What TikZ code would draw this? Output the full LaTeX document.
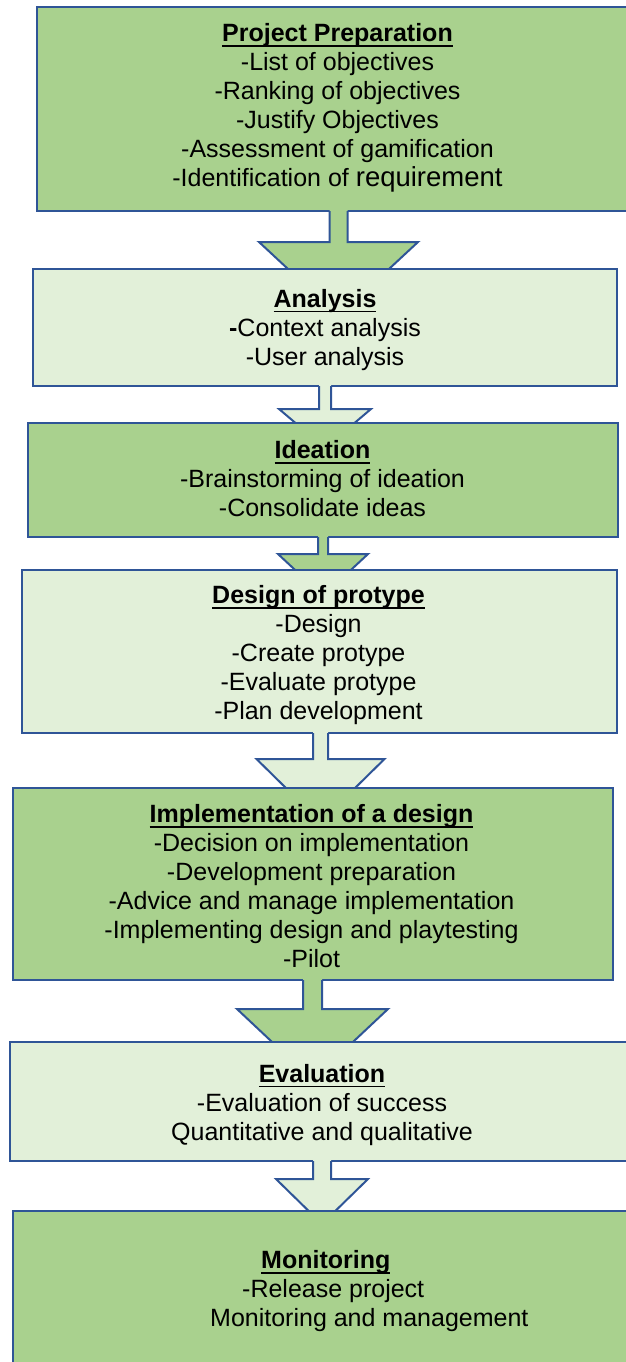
\documentclass[tikz,border=0pt]{standalone}
\usepackage{fontspec}
\setmainfont{Liberation Sans}
\usetikzlibrary{calc}

\definecolor{stagedark}{HTML}{A9D18E}
\definecolor{stagelight}{HTML}{E2F0D9}
\definecolor{stageedge}{HTML}{2F5597}

% bold heading with a thick underline that runs through descenders
\newcommand{\stagehead}[1]{\setbox0\hbox{\bfseries #1}\rlap{\rule[-5pt]{\wd0}{1.6pt}}\box0}

% block arrow hanging from the bottom of a stage box:
% #1 source node, #2 axis x, #3 half shaft width, #4 shaft length,
% #5 half head width, #6 head depth, #7 fill colour
\newcommand{\blockarrow}[7]{%
  \coordinate (axis) at (#2,0);
  \coordinate (root) at (axis |- #1.south);
  \fill[#7] (root) ++(-#3,-1) -- ++(0,#4+1) -- ++(-#5+#3,0) -- ++(#5,#6)
    -- ++(#5,-#6) -- ++(-#5+#3,0) -- ++(0,-#4-1) -- cycle;
  \draw[flowedge] (root) ++(-#3,0) -- ++(0,#4) -- ++(-#5+#3,0) -- ++(#5,#6)
    -- ++(#5,-#6) -- ++(-#5+#3,0) -- ++(0,-#4);
}

\tikzset{
  stagebox/.style={draw=stageedge, line width=2pt, rectangle, inner sep=0pt, outer sep=0pt},
  stagetext/.style={align=center, inner sep=0pt, font=\fontsize{25}{29}\selectfont},
  flowedge/.style={draw=stageedge, line width=2pt, line join=miter},
}

\begin{document}
\begin{tikzpicture}[x=1pt, y=-1pt]
  \useasboundingbox (0,0) rectangle (626,1362);
  \clip (0,0) rectangle (626,1362);

  % 1 Project preparation
  \node[stagebox, fill=stagedark, minimum width=603pt, minimum height=204pt] (b1) at (338.5,109) {};
  \node[stagetext] (t1) at (337.5,108) {\stagehead{Project Preparation}\\-List of objectives\\-Ranking of objectives\\-Justify Objectives\\-Assessment of gamification\\-Identification of {\fontsize{27.5}{29}\selectfont requirement}};
  \blockarrow{b1}{338.5}{9}{31}{79.5}{74}{stagedark}

  % 2 Analysis
  \node[stagebox, fill=stagelight, minimum width=584pt, minimum height=117pt] (b2) at (325,327.5) {};
  \node[stagetext] (t2) at (325,330) {\stagehead{Analysis}\\\textbf{-}Context analysis\\-User analysis};
  \blockarrow{b2}{325}{6}{23}{46}{39}{stagelight}

  % 3 Ideation
  \node[stagebox, fill=stagedark, minimum width=590pt, minimum height=114pt] (b3) at (323,480) {};
  \node[stagetext] (t3) at (322.5,479) {\stagehead{Ideation}\\-Brainstorming of ideation\\-Consolidate ideas};
  \blockarrow{b3}{323}{5}{17}{45}{42}{stagedark}

  % 4 Design of prototype
  \node[stagebox, fill=stagelight, minimum width=595pt, minimum height=163pt] (b4) at (319.5,651.5) {};
  \node[stagetext] (t4) at (318.5,655.5) {\stagehead{Design of protype}\\-Design\\-Create protype\\-Evaluate protype\\-Plan development};
  \blockarrow{b4}{320.5}{7.5}{26}{64}{63}{stagelight}

  % 5 Implementation
  \node[stagebox, fill=stagedark, minimum width=600pt, minimum height=192pt] (b5) at (313,884) {};
  \node[stagetext] (t5) at (311.5,886.5) {\stagehead{Implementation of a design}\\-Decision on implementation\\-Development preparation\\-Advice and manage implementation\\-Implementing design and playtesting\\-Pilot};
  \blockarrow{b5}{312.5}{9.5}{29}{75.5}{71}{stagedark}

  % 6 Evaluation
  \node[stagebox, fill=stagelight, minimum width=624pt, minimum height=119pt] (b6) at (322,1101.5) {};
  \node[stagetext] (t6) at (322,1105) {\stagehead{Evaluation}\\-Evaluation of success\\Quantitative and qualitative};
  \blockarrow{b6}{322}{9}{18}{46}{45}{stagelight}

  % 7 Monitoring
  \node[stagebox, fill=stagedark, minimum width=627pt, minimum height=179pt] (b7) at (326.5,1300.5) {};
  \node[stagetext, align=left, anchor=west] (t7) at (210,1291.5) {\hspace*{51pt}\stagehead{Monitoring}\\\hspace*{32pt}-Release project\\Monitoring and management};
\end{tikzpicture}
\end{document}
